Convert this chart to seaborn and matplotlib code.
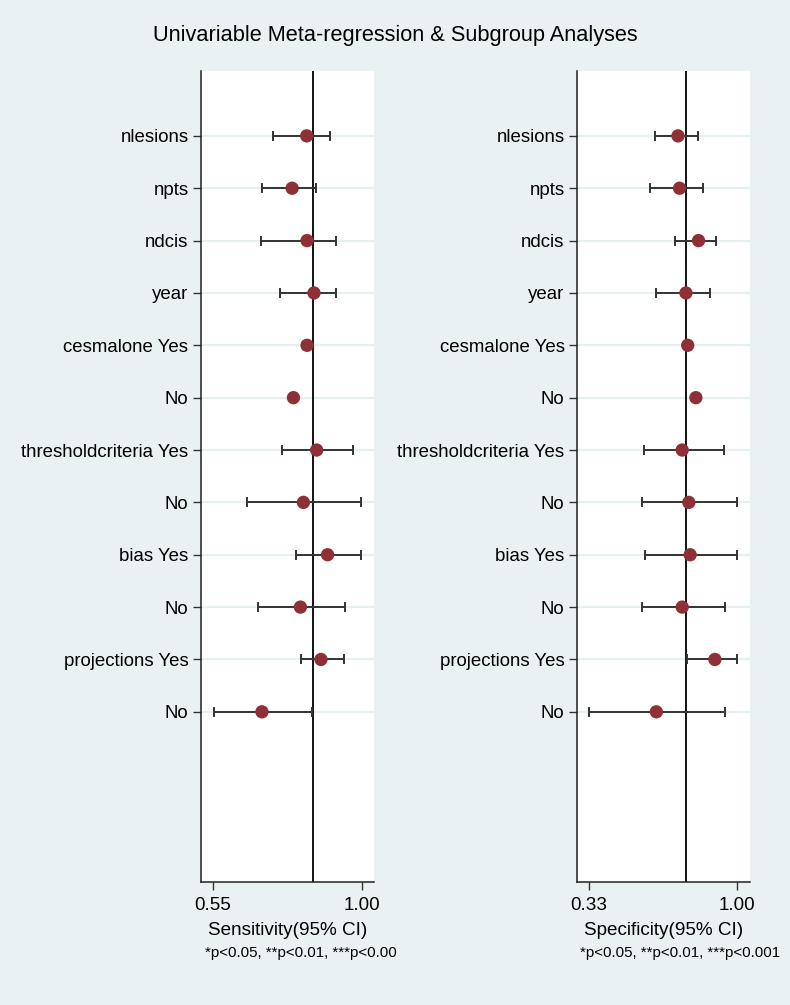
import numpy as np
import pandas as pd
import seaborn as sns
import matplotlib
matplotlib.use("Agg")
import matplotlib.pyplot as plt

labels = ["nlesions", "npts", "ndcis", "year", "cesmalone Yes", "No",
          "thresholdcriteria Yes", "No", "bias Yes", "No", "projections Yes", "No"]

sens_est = [0.833, 0.789, 0.834, 0.855, 0.834, 0.793, 0.863, 0.823, 0.896, 0.814, 0.876, 0.698]
sens_lo = [0.731, 0.697, 0.695, 0.752, np.nan, np.nan, 0.758, 0.652, 0.800, 0.685, 0.815, 0.552]
sens_hi = [0.903, 0.861, 0.920, 0.922, np.nan, np.nan, 0.974, 0.998, 0.998, 0.948, 0.947, 0.850]
sens_overall = 0.852

spec_est = [0.733, 0.740, 0.826, 0.769, 0.777, 0.814, 0.752, 0.782, 0.788, 0.752, 0.900, 0.635]
spec_lo = [0.627, 0.606, 0.721, 0.633, np.nan, np.nan, 0.579, 0.568, 0.585, 0.568, 0.773, 0.331]
spec_hi = [0.825, 0.846, 0.903, 0.877, np.nan, np.nan, 0.940, 0.998, 0.998, 0.944, 0.998, 0.944]
spec_overall = 0.769

sens_ticks = [0.55, 1.00]
spec_ticks = [0.33, 1.00]

BG = "#eaf1f3"
GRID = "#e6eff2"
MARK = "#8e3036"

sns.set_style("white")
plt.rcParams["font.family"] = ["Liberation Sans", "DejaVu Sans"]
plt.rcParams["text.color"] = "black"
plt.rcParams["axes.labelcolor"] = "black"
plt.rcParams["xtick.color"] = "black"
plt.rcParams["ytick.color"] = "black"

fig = plt.figure(figsize=(7.9, 10.05), dpi=100, facecolor=BG)

pos = np.arange(len(labels))
df_s = pd.DataFrame({"pos": pos, "est": sens_est, "lo": sens_lo, "hi": sens_hi})
df_p = pd.DataFrame({"pos": pos, "est": spec_est, "lo": spec_lo, "hi": spec_hi})


def panel(rect, df, overall, ticks, xlim, xlabel):
    ax = fig.add_axes(rect)
    ax.set_facecolor("white")
    for p in df["pos"]:
        ax.axhline(p, color=GRID, lw=1.6, zorder=0)
    ax.axvline(overall, color="black", lw=1.3, zorder=1)
    ok = df.dropna()
    ax.errorbar(ok["est"], ok["pos"],
                xerr=[ok["est"] - ok["lo"], ok["hi"] - ok["est"]],
                fmt="none", ecolor="#333333", elinewidth=1.4,
                capsize=3.6, capthick=1.4, zorder=2)
    sns.scatterplot(data=df, x="est", y="pos", ax=ax, color=MARK, s=92,
                    edgecolor="none", zorder=3, legend=False)
    ax.set_xlim(*xlim)
    ax.set_ylim(14.25, -1.24)
    ax.set_yticks(pos)
    ax.set_yticklabels(labels, fontsize=13.4)
    ax.set_xticks(ticks)
    ax.set_xticklabels([f"{t:.2f}" for t in ticks], fontsize=13.6)
    ax.tick_params(axis="both", direction="out", length=5.5, width=1.0,
                   color="#333333", pad=3.5, left=True, bottom=True)
    ax.tick_params(axis="x", pad=5)
    ax.set_xlabel(xlabel, fontsize=13.6, labelpad=6)
    ax.set_ylabel("")
    for s in ["top", "right"]:
        ax.spines[s].set_visible(False)
    for s in ["left", "bottom"]:
        ax.spines[s].set_color("#222222")
        ax.spines[s].set_linewidth(1.1)
    return ax


axl = panel([0.2544, 0.1224, 0.219, 0.807], df_s, sens_overall, sens_ticks,
            (0.514, 1.036), "Sensitivity(95% CI)")
axr = panel([0.7304, 0.1224, 0.219, 0.807], df_p, spec_overall, spec_ticks,
            (0.276, 1.059), "Specificity(95% CI)")

fig.text(0.5, 1 - 35 / 1005, "Univariable Meta-regression & Subgroup Analyses",
         ha="center", va="center", fontsize=15.7)
fig.text(205 / 790, 1 - 953 / 1005, "*p<0.05, **p<0.01, ***p<0.00",
         ha="left", va="center", fontsize=10.8)
fig.text(580 / 790, 1 - 953 / 1005, "*p<0.05, **p<0.01, ***p<0.001",
         ha="left", va="center", fontsize=10.8)

fig.savefig("out.png", dpi=100, facecolor=BG)
